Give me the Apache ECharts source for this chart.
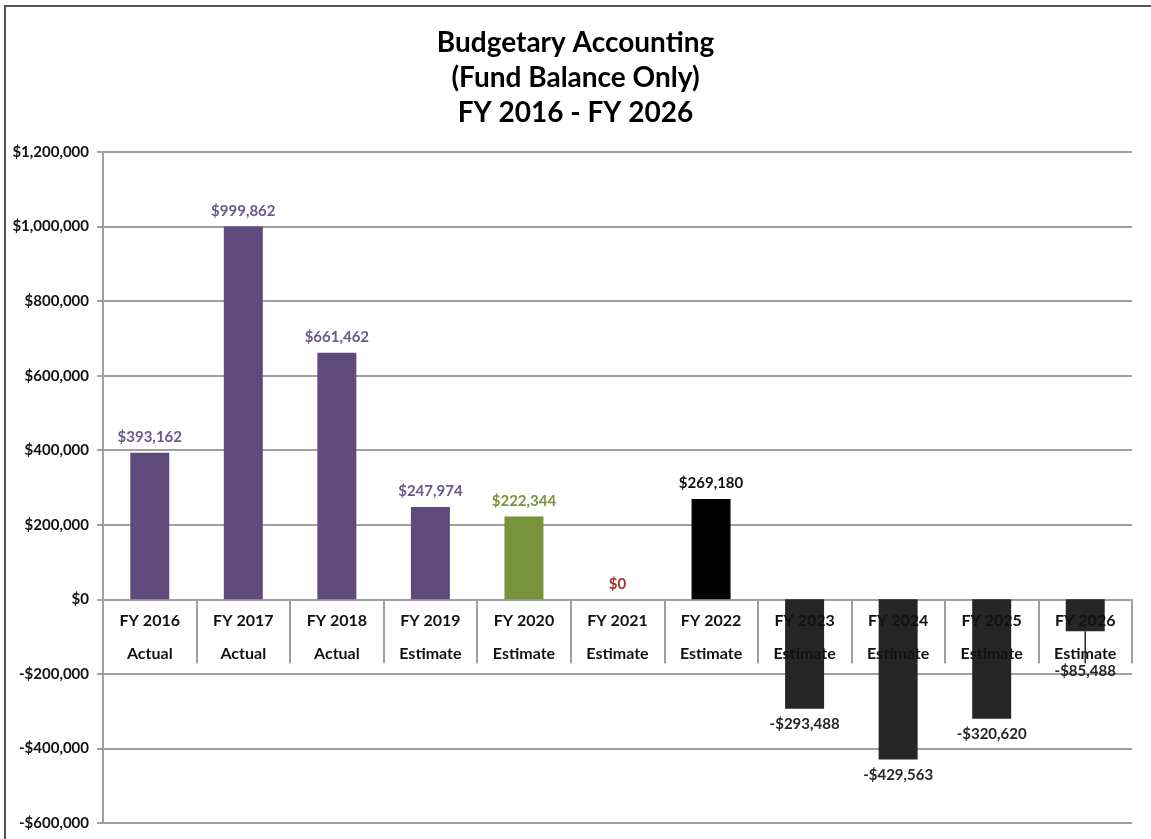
<!DOCTYPE html>
<html>
<head>
<meta charset="utf-8">
<title>Budgetary Accounting</title>
<script src="https://cdn.jsdelivr.net/npm/echarts@6/dist/echarts.min.js"></script>
<style>
    html, body { margin: 0; padding: 0; background: #fff; }
    #chart { width: 1151px; height: 839px; }
</style>
</head>
<body>
<div id="chart"></div>
<script>
// data
var years = ['FY 2016', 'FY 2017', 'FY 2018', 'FY 2019', 'FY 2020', 'FY 2021',
    'FY 2022', 'FY 2023', 'FY 2024', 'FY 2025', 'FY 2026'];
var kinds = ['Actual', 'Actual', 'Actual', 'Estimate', 'Estimate', 'Estimate',
    'Estimate', 'Estimate', 'Estimate', 'Estimate', 'Estimate'];
var balances = [393162, 999862, 661462, 247974, 222344, 0,
    269180, -293488, -429563, -320620, -85488];
var yMin = -600000;
var yMax = 1200000;
var yStep = 200000;

// colours per bar / per label
var barColors = ['#5f4a7b', '#5f4a7b', '#5f4a7b', '#5f4a7b', '#77933c', '#5f4a7b',
    '#000000', '#262626', '#262626', '#262626', '#262626'];
var labelColors = ['#6b5791', '#6b5791', '#6b5791', '#6b5791', '#77933c', '#a33330',
    '#111111', '#262626', '#262626', '#262626', '#262626'];

var FONT = 'Lato, "Open Sans", sans-serif';
var GRID_TOP = 152;
var GRID_BOTTOM = 16;
var CHART_H = 839;

function money(v) {
    var s = '$' + Math.abs(v).toLocaleString('en-US');
    return v < 0 ? '-' + s : s;
}

var chart = echarts.init(document.getElementById('chart'));

var barData = balances.map(function (v, i) {
    var item = {
        value: v,
        itemStyle: { color: barColors[i] },
        label: { color: labelColors[i], position: v < 0 ? 'bottom' : 'top' }
    };
    // last label was pushed down in the original, with a leader line
    if (i === balances.length - 1) {
        item.labelLine = { show: true, lineStyle: { color: '#262626', width: 1.5 } };
    }
    return item;
});

// where the zero line sits, counted up from the bottom of the grid
var plotH = CHART_H - GRID_TOP - GRID_BOTTOM;
var zeroFromBottom = plotH * (0 - yMin) / (yMax - yMin);

var option = {
    backgroundColor: '#fff',
    animation: false,
    title: {
        text: 'Budgetary Accounting\n(Fund Balance Only)\nFY 2016 - FY 2026',
        left: 'center',
        top: 20,
        textStyle: {
            fontFamily: FONT,
            fontSize: 28,
            fontWeight: 'bold',
            color: '#000',
            lineHeight: 35
        }
    },
    grid: {
        left: 103,
        right: 19,
        top: GRID_TOP,
        bottom: GRID_BOTTOM,
        outerBoundsMode: 'none',
        containLabel: false
    },
    xAxis: [{
        type: 'category',
        data: years,
        axisLine: {
            onZero: true,
            lineStyle: { color: '#a0a0a0', width: 2 }
        },
        axisTick: {
            show: true,
            length: 64,
            lineStyle: { color: '#a0a0a0', width: 2 }
        },
        axisLabel: { show: false }
    }, {
        // label-only axis laid on the zero line
        type: 'category',
        data: years,
        position: 'bottom',
        offset: -zeroFromBottom,
        z: 10,
        axisLine: { show: false, onZero: false },
        axisTick: { show: false },
        splitLine: { show: false },
        axisLabel: {
            margin: 5,
            fontFamily: FONT,
            fontSize: 16,
            fontWeight: 'bold',
            color: '#111',
            lineHeight: 33,
            formatter: function (v, i) {
                return v + '\n' + kinds[i];
            }
        }
    }],
    yAxis: {
        type: 'value',
        min: yMin,
        max: yMax,
        interval: yStep,
        axisLine: {
            show: true,
            lineStyle: { color: '#a0a0a0', width: 2 }
        },
        axisTick: {
            show: true,
            length: 6,
            lineStyle: { color: '#a0a0a0', width: 2 }
        },
        axisLabel: {
            margin: 14,
            fontFamily: FONT,
            fontSize: 15,
            fontWeight: 'bold',
            color: '#111',
            formatter: money
        },
        splitLine: {
            lineStyle: { color: '#a0a0a0', width: 2 }
        }
    },
    series: [{
        type: 'bar',
        data: barData,
        barWidth: 39,
        label: {
            show: true,
            distance: 8,
            fontFamily: FONT,
            fontSize: 15,
            fontWeight: 'bold',
            formatter: function (p) {
                return money(p.value);
            }
        },
        labelLayout: function (p) {
            if (p.dataIndex === balances.length - 1) {
                return { dy: 24 };
            }
            return {};
        }
    }],
    graphic: [{
        type: 'rect',
        shape: { x: 5, y: 6, width: 1200, height: 900 },
        style: { fill: 'none', stroke: '#555', lineWidth: 2 },
        silent: true
    }]
};

chart.setOption(option);
</script>
</body>
</html>
